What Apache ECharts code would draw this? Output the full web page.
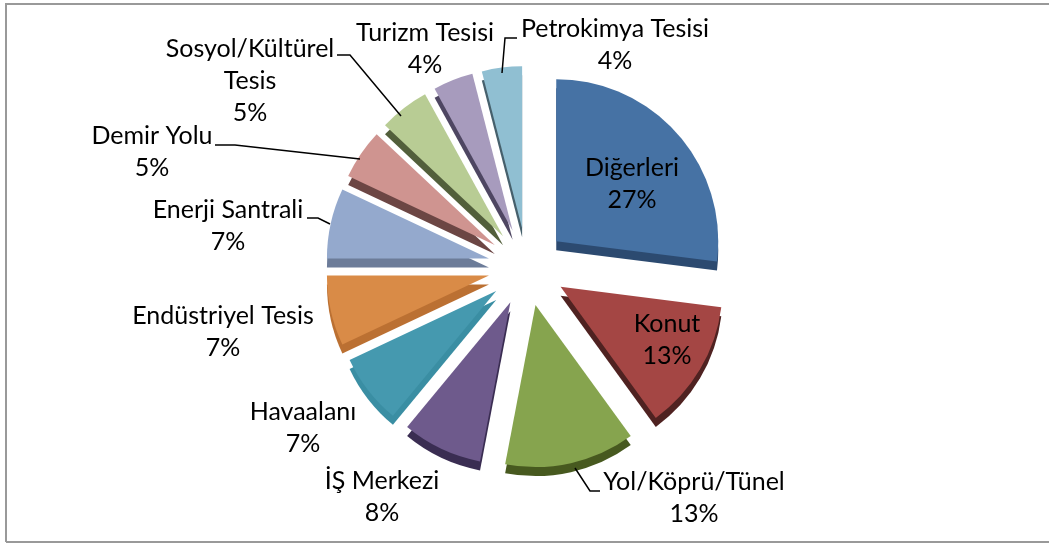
<!DOCTYPE html>
<html>
<head>
<meta charset="utf-8">
<script src="https://cdn.jsdelivr.net/npm/echarts@6/dist/echarts.min.js"></script>
<style>
  html, body { margin: 0; padding: 0; background: #fff; }
  #main { width: 1049px; height: 543px; }
</style>
</head>
<body>
<div id="main"></div>
<script>
const categories = ["Diğerleri", "Konut", "Yol/Köprü/Tünel", "İŞ Merkezi", "Havaalanı", "Endüstriyel Tesis", "Enerji Santrali", "Demir Yolu", "Sosyol/Kültürel\nTesis", "Turizm Tesisi", "Petrokimya Tesisi"];
const shares = [27, 13, 13, 8, 7, 7, 7, 5, 5, 4, 4];

const topColors = ["#4672a4", "#a44644", "#86a44e", "#6e5a8c", "#4599af", "#d98b47", "#94a9cd", "#cf9490", "#b8cc94", "#a79bbd", "#90bfd2"];
const sideColors = ["#2c4a70", "#4f2221", "#47591f", "#3a2d52", "#3a8ea3", "#bb7032", "#6c7c99", "#6c4644", "#525f3b", "#4e4662", "#46606c"];

// label centres
const labelX = [632, 667, 694, 382, 303, 223, 228, 152, 250, 425, 615];
const labelY = [184, 340, 498, 497, 428, 332, 226, 152, 81, 49, 45];

// leader lines from label to slice
const leaders = [
  [[517, 38], [505, 38], [502, 73]],
  [[337, 55], [350, 55], [401, 116]],
  [[215, 145], [235, 145], [360, 159]],
  [[307, 218], [318, 218], [330, 224]],
  [[575, 468], [590, 491], [600, 491]],
];

const chart = echarts.init(document.getElementById("main"));

const pieBase = {
  type: "pie",
  radius: [0, 162],
  startAngle: 90,
  clockwise: true,
  animation: false,
  silent: true,
  selectedMode: "multiple",
  selectedOffset: 39,
  label: { show: false },
  labelLine: { show: false },
  emphasis: { disabled: true },
};

const labelTexts = categories.map((name, i) => ({
  type: "text",
  z: 10,
  style: {
    text: name + "\n" + shares[i] + "%",
    x: labelX[i],
    y: labelY[i],
    align: "center",
    verticalAlign: "middle",
    fill: "#000",
    font: "25px Lato",
    lineHeight: 32,
  },
}));

const leaderLines = leaders.map((points) => ({
  type: "polyline",
  z: 10,
  shape: { points: points },
  style: { stroke: "#000", lineWidth: 1.5, fill: null },
}));

chart.setOption({
  backgroundColor: "#fff",
  graphic: [
    {
      type: "polyline",
      shape: { points: [[6, 542], [6, 4], [1049, 4]] },
      style: { stroke: "#999", lineWidth: 2, fill: null },
    },
    {
      type: "line",
      shape: { x1: 6, y1: 542, x2: 1049, y2: 542 },
      style: { stroke: "#999", lineWidth: 2 },
    },
  ].concat(leaderLines, labelTexts),
  series: [
    // darker copy underneath gives the slice thickness
    Object.assign({}, pieBase, {
      center: [527, 276],
      z: 1,
      data: categories.map((name, i) => ({
        name: name,
        value: shares[i],
        selected: true,
        itemStyle: { color: sideColors[i] },
      })),
    }),
    Object.assign({}, pieBase, {
      center: [527, 267],
      z: 2,
      data: categories.map((name, i) => ({
        name: name,
        value: shares[i],
        selected: true,
        itemStyle: { color: topColors[i] },
      })),
    }),
  ],
});
</script>
</body>
</html>
